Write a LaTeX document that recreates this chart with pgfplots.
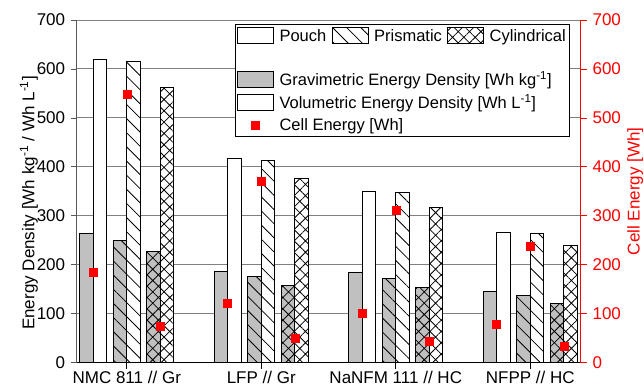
\documentclass[border=0pt]{standalone}
\usepackage{fontspec}
\setmainfont{Liberation Sans}
\usepackage{pgfplots}
\pgfplotsset{compat=1.18}
\usetikzlibrary{patterns.meta}
\definecolor{barg}{RGB}{192,192,192}
\definecolor{gridg}{RGB}{128,128,128}
\tikzset{
  prism/.style={pattern={Lines[angle=-45,distance=10pt,line width=0.8pt]}},
  cyl/.style={pattern={Hatch[angle=45,distance=8pt,line width=0.8pt]}},
}
\pgfplotsset{
  barbase/.style={ybar, bar width=0.1, bar shift=0pt, draw=black, line width=1pt, forget plot},
}
\begin{document}
\fontsize{17}{20}\selectfont
\begin{tikzpicture}
\begin{axis}[
  name=main,
  at={(0pt,0pt)}, anchor=south west,
  scale only axis, width=503.7pt, height=342.7pt,
  xmin=-0.37, xmax=3.375, ymin=0, ymax=700,
  axis lines*=left,
  x axis line style={black, line width=1pt},
  y axis line style={black!65, line width=1pt},
  tick align=outside, major tick length=6pt,
  xtick={0,1,2,3},
  xticklabels={NMC 811 // Gr, LFP // Gr, NaNFM 111 // HC, NFPP // HC},
  xticklabel style={yshift=3pt},
  xtick style={black, line width=0.8pt},
  ytick distance=100,
  ytick style={black!65, line width=0.8pt},
  /pgf/number format/assume math mode=true,
  tick label style={font=\fontsize{17}{20}\selectfont},
  ymajorgrids, grid style={gridg, line width=1pt},
  ylabel={Energy Density [Wh kg\textsuperscript{-1} / Wh L\textsuperscript{-1}]},
  ylabel style={at={(axis description cs:-0.0953,0.466)}, anchor=center},
  legend columns=3,
  legend cell align=left,
  legend style={at={(axis description cs:0.3137,0.988)}, anchor=north west,
    draw=black, fill=white, font=\fontsize{16.5}{19}\selectfont,
    column sep=4pt, row sep=3pt, inner sep=2pt, nodes={inner sep=1.5pt}},
]
% Pouch
\addplot[barbase, fill=barg] coordinates {(-0.3,263) (0.7,187) (1.7,184) (2.7,146)};
\addplot[barbase, fill=white] coordinates {(-0.2,620) (0.8,417) (1.8,349) (2.8,265)};
% Prismatic
\addplot[barbase, fill=barg, postaction={prism}] coordinates {(-0.05,250) (0.95,177) (1.95,172) (2.95,137)};
\addplot[barbase, fill=white, postaction={prism}] coordinates {(0.05,616) (1.05,412) (2.05,348) (3.05,263)};
% Cylindrical
\addplot[barbase, fill=barg, postaction={cyl}] coordinates {(0.2,227) (1.2,158) (2.2,153) (3.2,121)};
\addplot[barbase, fill=white, postaction={cyl}] coordinates {(0.3,562) (1.3,376) (2.3,318) (3.3,240)};
% legend
\addlegendimage{legend image code/.code={\draw[black,line width=0.8pt,fill=white] (0pt,-8pt) rectangle (36pt,8pt);}}
\addlegendentry{\strut Pouch}
\addlegendimage{legend image code/.code={\draw[black,line width=0.8pt,fill=white,pattern={Lines[angle=-45,distance=10pt,line width=0.8pt]}] (0pt,-8pt) rectangle (36pt,8pt);}}
\addlegendentry{\strut Prismatic}
\addlegendimage{legend image code/.code={\draw[black,line width=0.8pt,fill=white,pattern={Hatch[angle=45,distance=8pt,line width=0.8pt]}] (0pt,-8pt) rectangle (36pt,8pt);}}
\addlegendentry{\strut Cylindrical}
\addlegendimage{empty legend}\addlegendentry{\strut}
\addlegendimage{empty legend}\addlegendentry{}
\addlegendimage{empty legend}\addlegendentry{}
\addlegendimage{legend image code/.code={\draw[black,line width=0.8pt,fill=barg] (0pt,-8pt) rectangle (36pt,8pt);}}
\addlegendentry{\strut\makebox[0pt][l]{Gravimetric Energy Density [Wh kg\textsuperscript{-1}]}}
\addlegendimage{empty legend}\addlegendentry{}
\addlegendimage{empty legend}\addlegendentry{}
\addlegendimage{legend image code/.code={\draw[black,line width=0.8pt,fill=white] (0pt,-8pt) rectangle (36pt,8pt);}}
\addlegendentry{\strut\makebox[0pt][l]{Volumetric Energy Density [Wh L\textsuperscript{-1}]}}
\addlegendimage{empty legend}\addlegendentry{}
\addlegendimage{empty legend}\addlegendentry{}
\addlegendimage{legend image code/.code={\fill[red] (14pt,-4pt) rectangle (22pt,4pt);}}
\addlegendentry{\strut\makebox[0pt][l]{Cell Energy [Wh]}}
\end{axis}
\begin{axis}[
  at={(0pt,0pt)}, anchor=south west,
  scale only axis, width=503.7pt, height=342.7pt,
  xmin=-0.37, xmax=3.375, ymin=0, ymax=700,
  axis x line=none, axis y line*=right,
  y axis line style={red, line width=1pt},
  tick align=outside, major tick length=6pt,
  ytick distance=100,
  ytick style={red, line width=0.8pt},
  yticklabel style={red},
  /pgf/number format/assume math mode=true,
  tick label style={font=\fontsize{17}{20}\selectfont},
  ylabel={Cell Energy [Wh]},
  ylabel style={red, at={(axis description cs:1.108,0.5)}, anchor=center},
]
\addplot[only marks, mark=square*, mark size=4pt, color=red] coordinates {
  (-0.25,184) (0,548) (0.25,75)
  (0.75,122) (1,371) (1.25,51)
  (1.75,102) (2,312) (2.25,43)
  (2.75,79) (3,237) (3.25,33)};
\end{axis}
\pgfresetboundingbox
\path (-77pt,-25.3pt) rectangle (567pt,362.7pt);
\end{tikzpicture}
\end{document}
